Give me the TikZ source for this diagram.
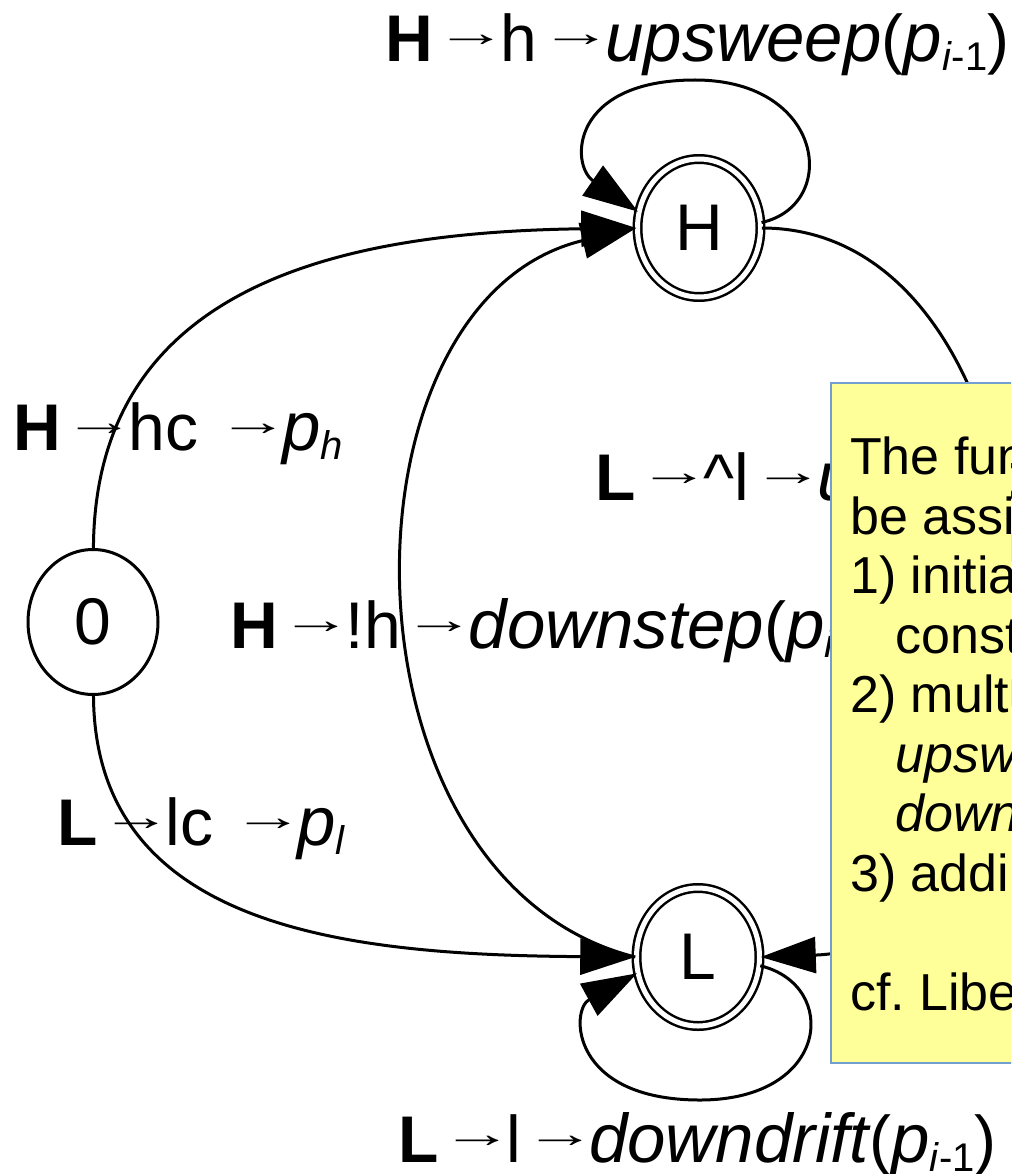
\documentclass[tikz,border=0pt]{standalone}
\usepackage{fontspec}
\setmainfont{Liberation Sans}
\usetikzlibrary{arrows.meta,shapes.geometric}
\frenchspacing

% small arrow between the parts of a transition label
\newcommand{\tto}{\hspace{3pt}\raisebox{15pt}{\scalebox{1.8}[1]{\fontsize{40}{40}\selectfont →}}\hspace{-7pt}}
% lowered, smaller index
\newcommand{\idx}[1]{\raisebox{-9pt}{\fontsize{40}{40}\selectfont #1}}
% italic part of a label
\newcommand{\fn}[1]{{\fontsize{69}{69}\selectfont\itshape #1}}

\begin{document}
\begin{tikzpicture}[
    x=1pt, y=-1pt,
    state/.style={ellipse, draw, line width=3pt, inner sep=0pt, minimum width=130pt, minimum height=145pt, font=\fontsize{66}{66}\selectfont},
    accept/.style={state, double, line width=2.5pt, double distance=5pt, minimum width=123pt, minimum height=138pt},
    trans/.style={line width=3pt, -{Triangle[length=55pt,width=36pt]}},
    lbl/.style={anchor=base west, inner sep=0pt, font=\fontsize{66}{66}\selectfont},
    notebox/.style={rectangle, anchor=north west, fill={rgb,255:red,255;green,255;blue,153}, draw={rgb,255:red,114;green,159;blue,207}, line width=1.5pt, minimum width=300pt, minimum height=680pt}
]
\useasboundingbox (0,0) rectangle (1011,1174);
\clip (0,0) rectangle (1011,1174);

% states
\node[state] (n0) at (93,622) {0};
\node[accept] (H) at (699,228) {H};
\node[accept] (L) at (698,957) {L};

% transitions
\draw[trans] (n0) .. controls (95,280) and (350,232) .. (H.west);
\draw[trans] (n0) .. controls (95,930) and (350,955) .. (L.west);
\draw[trans] (H.5) .. controls (840,205) and (825,80) .. (695,80) .. controls (570,80) and (570,165) .. (H.165);
\draw[trans] (L.-8) .. controls (840,985) and (830,1100) .. (700,1100) .. controls (570,1100) and (570,1010) .. (L.195);
\draw[trans] (L.west) .. controls (330,880) and (330,300) .. (H.west);
\draw[trans] (H.east) .. controls (1080,228) and (1100,945) .. (L.east);

% transition labels
\node[lbl] (lup) at (385,62) {\textbf{H}\tto h\tto\fn{upsweep}(\fn{p}\idx{\textit{i}-1})};
\node[lbl] (lhc) at (13,450) {\textbf{H}\tto hc\hspace{16pt}\tto\fn{p}\idx{\textit{h}}};
\node[lbl] (lstepup) at (595,500) {\textbf{L}\tto\^{}l\tto\fn{upstep}(\fn{p}\idx{\textit{i}})};
\node[lbl] (lstepdown) at (230,648) {\textbf{H}\tto!h\tto\fn{downstep}(\fn{p}\idx{\textit{i}})};
\node[lbl] (llc) at (57,845) {\textbf{L}\tto lc\hspace{16pt}\tto\fn{p}\idx{\textit{l}}};
\node[lbl] (ldown) at (398,1162) {\textbf{L}\tto l\tto\fn{downdrift}(\fn{p}\idx{\textit{i}-1})};

% comment box
\node[notebox] (note) at (830,382) {};
\node[anchor=north west, inner sep=0pt, align=left, font=\fontsize{52}{59.5}\selectfont] (notetext) at (850,437) {%
The function\\
be assigned\\
1) initial\\
\hspace*{45pt}constant\\
2) multiply\\
\hspace*{45pt}\textit{upsweep}\\
\hspace*{45pt}\textit{downstep}\\
3) adding\\[59.5pt]
cf. Liberman};
\end{tikzpicture}
\end{document}
